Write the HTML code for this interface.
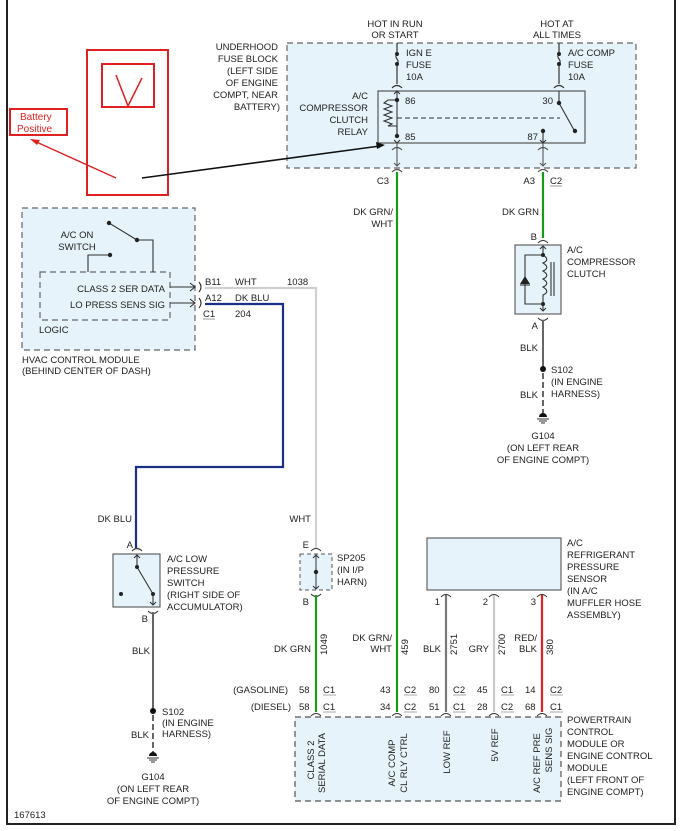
<!DOCTYPE html>
<html><head><meta charset="utf-8"><style>
html,body{margin:0;padding:0;background:#fff}
svg{display:block}
text{font-family:"Liberation Sans",sans-serif;font-size:9.5px;fill:#222}
.r{text-anchor:end}.m{text-anchor:middle}
</style></head><body>
<svg width="683" height="831" viewBox="0 0 683 831" xmlns="http://www.w3.org/2000/svg">
<!-- frame -->
<path d="M7 0 V824 H675 V0" fill="none" stroke="#222" stroke-width="2"/>

<!-- fuse block -->
<rect x="287" y="43" width="349" height="125" fill="#e6f3fb" stroke="#666" stroke-dasharray="6,4" stroke-width="1.2"/>
<text class="m" x="395" y="27">HOT IN RUN</text><text class="m" x="395" y="38">OR START</text>
<text class="m" x="557" y="27">HOT AT</text><text class="m" x="557" y="38">ALL TIMES</text>
<text class="r" x="278" y="50">UNDERHOOD</text><text class="r" x="278" y="62">FUSE BLOCK</text>
<text class="r" x="278" y="74">(LEFT SIDE</text><text class="r" x="278" y="86">OF ENGINE</text>
<text class="r" x="278" y="98">COMPT, NEAR</text><text class="r" x="280" y="110">BATTERY)</text>
<!-- fuses -->
<g stroke="#333" fill="none" stroke-width="1.2">
<path d="M397 43 V54 M397 54 c-4 4 4 6 0 10 M397 64 V84"/>
<path d="M559 43 V54 M559 54 c-4 4 4 6 0 10 M559 64 V84"/>
<path d="M392 88 q5 -5 10 0 M554 88 q5 -5 10 0"/>
</g>
<circle cx="397" cy="54" r="2" fill="#222"/><circle cx="397" cy="64" r="2" fill="#222"/>
<circle cx="559" cy="54" r="2" fill="#222"/><circle cx="559" cy="64" r="2" fill="#222"/>
<text x="406" y="56">IGN E</text><text x="406" y="68">FUSE</text><text x="406" y="80">10A</text>
<text x="568" y="56">A/C COMP</text><text x="568" y="68">FUSE</text><text x="568" y="80">10A</text>
<!-- relay -->
<rect x="378" y="91" width="207" height="52" fill="#e6f3fb" stroke="#555" stroke-width="1.2"/>
<text class="r" x="368" y="99">A/C</text><text class="r" x="368" y="111">COMPRESSOR</text>
<text class="r" x="368" y="123">CLUTCH</text><text class="r" x="368" y="135">RELAY</text>
<g stroke="#333" fill="none" stroke-width="1.1">
<path d="M397 91 V100 M397 100 H388 l-4 3 8 3 -8 3 8 3 -8 3 8 3 -8 3 8 3 -4 2 H397 V136"/>
<path d="M397 100 V136"/>
<path d="M397 118 H560" stroke-dasharray="5,3"/>
<path d="M559 91 V103 L574 130"/>
<path d="M543 130 V143"/>
<path d="M394 94 l3 -3 3 3 M540 140 l3 3 3 -3 M394 140 l3 3 3 -3"/>
</g>
<circle cx="397" cy="100" r="2.2" fill="#222"/><circle cx="397" cy="136" r="2.2" fill="#222"/>
<circle cx="559" cy="103" r="2.2" fill="#222"/><circle cx="575" cy="131" r="2.2" fill="#222"/>
<circle cx="543" cy="131" r="2.2" fill="#222"/>
<text x="405" y="104">86</text><text x="405" y="140">85</text>
<text class="r" x="553" y="104">30</text><text class="r" x="538" y="140">87</text>
<g stroke="#555" fill="none" stroke-width="1.1">
<path d="M397 143 V166 M394 163 l3 3 3 -3 M392 150 q5 -5 10 0 M392 172 q5 -5 10 0"/>
<path d="M543 143 V166 M540 163 l3 3 3 -3 M538 150 q5 -5 10 0 M538 172 q5 -5 10 0"/>
</g>
<text class="r" x="389" y="184">C3</text>
<text class="r" x="535" y="184">A3</text><text x="550" y="184">C2</text>
<line x1="550" y1="186" x2="562" y2="186" stroke="#999"/>

<!-- red annotation -->
<rect x="87" y="50" width="81" height="145" fill="none" stroke="#e02020" stroke-width="2"/>
<rect x="102" y="64" width="52" height="43" fill="none" stroke="#e02020" stroke-width="2"/>
<path d="M116 75 L128 106 L142 78" fill="none" stroke="#e02020" stroke-width="1.5"/>
<rect x="10" y="109" width="57" height="26" fill="none" stroke="#e02020" stroke-width="2"/>
<text x="20" y="120" style="fill:#e02020;font-size:10px">Battery</text>
<text x="17" y="132" style="fill:#e02020;font-size:10px">Positive</text>
<path d="M116 178 L32 140" stroke="#e02020" stroke-width="1.5"/>
<path d="M30 139 l10 1 -3 5z" fill="#e02020"/>
<path d="M142 178 L380 146" stroke="#111" stroke-width="1.5"/>
<path d="M385 145 l-9 -3 1 7z" fill="#111"/>

<!-- HVAC module -->
<rect x="22" y="208" width="173" height="142" fill="#e6f3fb" stroke="#666" stroke-dasharray="6,4" stroke-width="1.2"/>
<rect x="40" y="272" width="130" height="48" fill="#e6f3fb" stroke="#666" stroke-dasharray="6,4" stroke-width="1.2"/>
<text class="m" x="77" y="238">A/C ON</text><text class="m" x="77" y="250">SWITCH</text>
<g stroke="#333" fill="none" stroke-width="1.1">
<path d="M109 223 L137 240 M137 240 H153 V272 M88 272 V255 H110"/>
<path d="M170 287 H195 M190 283 l5 4 -5 4 M170 303 H195 M190 299 l5 4 -5 4"/>
<path d="M199 282 q4 5 0 10 M199 298 q4 5 0 10"/>
</g>
<circle cx="109" cy="223" r="2.2" fill="#222"/><circle cx="137" cy="240" r="2.2" fill="#222"/><circle cx="110" cy="255" r="2.2" fill="#222"/>
<text class="r" x="165" y="292">CLASS 2 SER DATA</text>
<text class="r" x="165" y="308">LO PRESS SENS SIG</text>
<text x="39" y="333">LOGIC</text>
<text x="22" y="363">HVAC CONTROL MODULE</text><text x="22" y="374">(BEHIND CENTER OF DASH)</text>
<text x="205" y="285">B11</text><text x="235" y="285">WHT</text><text x="287" y="285">1038</text>
<text x="205" y="301">A12</text><text x="235" y="301">DK BLU</text>
<text x="203" y="317">C1</text><text x="235" y="317">204</text>
<line x1="203" y1="319" x2="215" y2="319" stroke="#999"/>
<!-- wires -->
<path d="M205 288 H316 V548" fill="none" stroke="#d0d0d0" stroke-width="2.2"/>
<path d="M205 304 H283 V467 H136 V548" fill="none" stroke="#1a2f8a" stroke-width="2.2"/>
<text class="r" x="132" y="522">DK BLU</text>
<text class="r" x="311" y="522">WHT</text>

<!-- low pressure switch -->
<rect x="113" y="554" width="47" height="53" fill="#e6f3fb" stroke="#555" stroke-width="1.1"/>
<text class="r" x="133" y="548">A</text>
<g stroke="#333" fill="none" stroke-width="1.1">
<path d="M132 551 q5 -5 10 0 M137 555 V567 L153 594 V605 M134 558 l3 -3 3 3 M150 602 l3 3 3 -3 M148 611 q5 5 10 0"/>
</g>
<circle cx="137" cy="567" r="2" fill="#222"/><circle cx="153" cy="594" r="2" fill="#222"/><circle cx="121" cy="594" r="2" fill="#222"/>
<text x="167" y="562">A/C LOW</text><text x="167" y="574">PRESSURE</text><text x="167" y="586">SWITCH</text>
<text x="167" y="598">(RIGHT SIDE OF</text><text x="167" y="610">ACCUMULATOR)</text>
<text class="r" x="148" y="622">B</text>
<line x1="153" y1="612" x2="153" y2="711" stroke="#666" stroke-width="2"/>
<text class="r" x="150" y="654">BLK</text>
<circle cx="153" cy="711" r="3" fill="#111"/>
<line x1="153" y1="715" x2="153" y2="755" stroke="#666" stroke-width="2" stroke-dasharray="6,3"/>
<text x="162" y="715">S102</text><text x="162" y="726">(IN ENGINE</text><text x="162" y="737">HARNESS)</text>
<text class="r" x="149" y="738">BLK</text>
<path d="M149 756 a4 4 0 0 1 8 0z" fill="#111"/><path d="M147 758 H159 M149 760 H157 M151 762 H155" stroke="#333"/>
<text class="m" x="153" y="780">G104</text><text class="m" x="153" y="792">(ON LEFT REAR</text><text class="m" x="153" y="804">OF ENGINE COMPT)</text>
<text x="14" y="818">167613</text>

<!-- compressor clutch -->
<line x1="543" y1="172" x2="543" y2="238" stroke="#1a9a1a" stroke-width="2.2"/>
<text class="r" x="539" y="215">DK GRN</text>
<text class="r" x="537" y="240">B</text>
<path d="M538 243 q5 -5 10 0" stroke="#333" fill="none"/>
<rect x="515" y="245" width="46" height="69" fill="#e6f3fb" stroke="#555" stroke-width="1.1"/>
<g stroke="#333" fill="none" stroke-width="1.1">
<path d="M543 246 V255 H525 V304 H543 V311 M543 255 c5 3 5 6 0 8 c5 3 5 6 0 8 c5 3 5 6 0 8 c5 3 5 6 0 8 c5 3 5 6 0 8 V304"/>
<path d="M551 262 V296 M554 262 V296 M540 249 l3 -3 3 3 M540 308 l3 3 3 -3 M538 318 q5 5 10 0"/>
<path d="M520 285 H530"/>
</g>
<path d="M520 284 L525 276 L530 284z" fill="#222"/>
<circle cx="543" cy="255" r="2" fill="#222"/><circle cx="543" cy="304" r="2" fill="#222"/>
<text x="567" y="253">A/C</text><text x="567" y="265">COMPRESSOR</text><text x="567" y="277">CLUTCH</text>
<text class="r" x="538" y="329">A</text>
<line x1="543" y1="320" x2="543" y2="369" stroke="#666" stroke-width="2"/>
<text class="r" x="538" y="351">BLK</text>
<circle cx="543" cy="369" r="3" fill="#111"/>
<line x1="543" y1="373" x2="543" y2="416" stroke="#666" stroke-width="2" stroke-dasharray="6,3"/>
<text x="551" y="373">S102</text><text x="551" y="385">(IN ENGINE</text><text x="551" y="397">HARNESS)</text>
<text class="r" x="538" y="398">BLK</text>
<path d="M539 417 a4 4 0 0 1 8 0z" fill="#111"/><path d="M537 419 H549 M539 421 H547 M541 423 H545" stroke="#333"/>
<text class="m" x="543" y="439">G104</text><text class="m" x="543" y="451">(ON LEFT REAR</text><text class="m" x="543" y="463">OF ENGINE COMPT)</text>

<!-- DK GRN/WHT wire -->
<line x1="397" y1="172" x2="397" y2="712" stroke="#1a9a1a" stroke-width="2.2"/>
<text class="r" x="393" y="215">DK GRN/</text><text class="r" x="393" y="227">WHT</text>

<!-- SP205 -->
<text class="r" x="309" y="548">E</text>
<path d="M311 551 q5 -5 10 0" stroke="#333" fill="none"/>
<rect x="300" y="554" width="32" height="36" fill="#e6f3fb" stroke="#555" stroke-dasharray="4,3"/>
<path d="M316 555 V589 M313 558 l3 -3 3 3 M313 586 l3 3 3 -3 M311 594 q5 5 10 0" stroke="#333" fill="none"/>
<circle cx="316" cy="572" r="2.2" fill="#222"/>
<text x="337" y="561">SP205</text><text x="337" y="573">(IN I/P</text><text x="337" y="585">HARN)</text>
<text class="r" x="309" y="605">B</text>
<line x1="316" y1="595" x2="316" y2="712" stroke="#1a9a1a" stroke-width="2.2"/>

<!-- sensor -->
<rect x="427" y="538" width="134" height="52" fill="#e6f3fb" stroke="#555" stroke-width="1.1"/>
<text x="567" y="546">A/C</text><text x="567" y="558">REFRIGERANT</text><text x="567" y="570">PRESSURE</text>
<text x="567" y="582">SENSOR</text><text x="567" y="594">(IN A/C</text><text x="567" y="606">MUFFLER HOSE</text><text x="567" y="618">ASSEMBLY)</text>
<path d="M441 597 q5 -5 10 0 M489 597 q5 -5 10 0 M537 597 q5 -5 10 0" stroke="#333" fill="none"/>
<text class="r" x="440" y="605">1</text><text class="r" x="488" y="605">2</text><text class="r" x="536" y="605">3</text>
<line x1="446" y1="595" x2="446" y2="712" stroke="#777" stroke-width="2.2"/>
<line x1="494" y1="595" x2="494" y2="712" stroke="#c8c8c8" stroke-width="2.2"/>
<line x1="542" y1="595" x2="542" y2="712" stroke="#e52020" stroke-width="2.2"/>

<!-- wire labels -->
<text class="r" x="311" y="652">DK GRN</text>
<text class="r" x="392" y="641">DK GRN/</text><text class="r" x="392" y="652">WHT</text>
<text class="r" x="441" y="652">BLK</text>
<text class="r" x="489" y="652">GRY</text>
<text class="r" x="537" y="641">RED/</text><text class="r" x="537" y="652">BLK</text>
<g style="font-size:9.5px">
<text transform="translate(327,655) rotate(-90)">1049</text>
<text transform="translate(408,655) rotate(-90)">459</text>
<text transform="translate(457,655) rotate(-90)">2751</text>
<text transform="translate(505,655) rotate(-90)">2700</text>
<text transform="translate(553,655) rotate(-90)">380</text>
</g>
<!-- connector rows -->
<text class="r" x="288" y="693">(GASOLINE)</text><text class="r" x="291" y="710">(DIESEL)</text>
<text x="299" y="693">58</text><text x="323" y="693">C1</text>
<text x="299" y="710">58</text><text x="323" y="710">C1</text>
<text x="380" y="693">43</text><text x="404" y="693">C2</text>
<text x="380" y="710">34</text><text x="404" y="710">C2</text>
<text x="429" y="693">80</text><text x="453" y="693">C2</text>
<text x="429" y="710">51</text><text x="453" y="710">C1</text>
<text x="477" y="693">45</text><text x="501" y="693">C1</text>
<text x="477" y="710">28</text><text x="501" y="710">C2</text>
<text x="525" y="693">14</text><text x="550" y="693">C2</text>
<text x="525" y="710">68</text><text x="550" y="710">C1</text>
<g stroke="#aaa"><path d="M323 695 H336 M404 695 H417 M453 695 H466 M501 695 H514 M550 695 H563 M323 712 H336 M404 712 H417 M453 712 H466 M501 712 H514 M550 712 H563"/></g>
<!-- PCM -->
<rect x="295" y="717" width="266" height="84" fill="#e6f3fb" stroke="#555" stroke-dasharray="6,4" stroke-width="1.2"/>
<path d="M311 716 q5 -5 10 0 M392 716 q5 -5 10 0 M441 716 q5 -5 10 0 M489 716 q5 -5 10 0 M537 716 q5 -5 10 0" stroke="#333" fill="none"/>
<g style="font-size:9.5px">
<text transform="translate(314,760) rotate(-90)" text-anchor="middle">CLASS 2</text>
<text transform="translate(325,763) rotate(-90)" text-anchor="middle">SERIAL DATA</text>
<text transform="translate(395,763) rotate(-90)" text-anchor="middle">A/C COMP</text>
<text transform="translate(407,763) rotate(-90)" text-anchor="middle">CL RLY CTRL</text>
<text transform="translate(450,752) rotate(-90)" text-anchor="middle">LOW REF</text>
<text transform="translate(498,745) rotate(-90)" text-anchor="middle">5V REF</text>
<text transform="translate(540,763) rotate(-90)" text-anchor="middle">A/C REF PRE</text>
<text transform="translate(552,750) rotate(-90)" text-anchor="middle">SENS SIG</text>
</g>
<text x="567" y="723">POWERTRAIN</text><text x="567" y="735">CONTROL</text><text x="567" y="747">MODULE OR</text>
<text x="567" y="759">ENGINE CONTROL</text><text x="567" y="771">MODULE</text><text x="567" y="783">(LEFT FRONT OF</text><text x="567" y="795">ENGINE COMPT)</text>
</svg>
</body></html>
